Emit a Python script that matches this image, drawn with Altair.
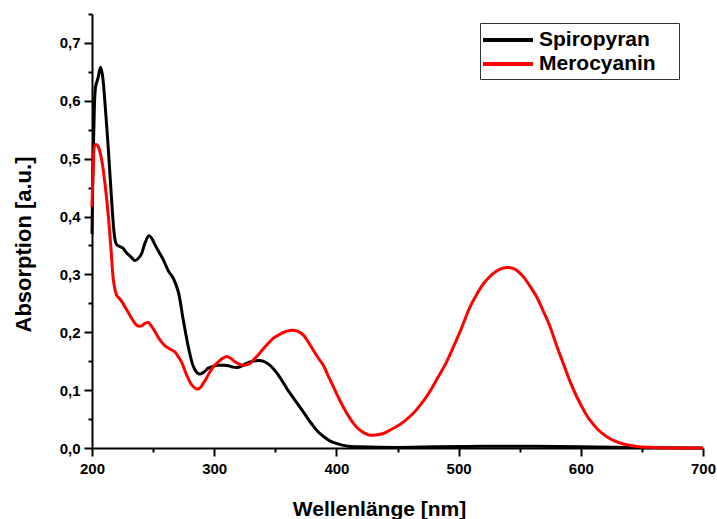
import altair as alt
import pandas as pd

# Spiropyran spectrum (wavelength nm, absorbance)
spiro_nm = [200, 201.5, 203, 205, 207, 208.5, 210.5, 213.4, 216, 218.5, 220, 223, 225, 228.4, 232,
            235.2, 238, 240.6, 243, 246.6, 249, 251.6, 255, 258.4, 262.5, 266.6, 270.6, 274.7, 278.8,
            282.9, 286, 288.4, 292, 295.2, 300, 303.4, 308, 311.6, 315, 318.4, 322, 325.2, 330, 336.1,
            340, 345, 350, 355, 360, 365, 370, 375, 380, 385, 390, 395, 400, 405, 410, 420, 450, 480,
            520, 560, 600, 640, 700]
spiro_abs = [0.37, 0.55, 0.625, 0.64, 0.658, 0.645, 0.60, 0.515, 0.43, 0.365, 0.352, 0.348, 0.346,
             0.337, 0.33, 0.324, 0.328, 0.336, 0.352, 0.367, 0.362, 0.351, 0.338, 0.325, 0.306, 0.293,
             0.270, 0.221, 0.175, 0.141, 0.130, 0.128, 0.132, 0.138, 0.142, 0.143, 0.143, 0.142, 0.140,
             0.139, 0.141, 0.145, 0.149, 0.151, 0.150, 0.144, 0.133, 0.118, 0.101, 0.086, 0.071, 0.056,
             0.041, 0.028, 0.019, 0.012, 0.008, 0.005, 0.003, 0.002, 0.001, 0.002, 0.003, 0.003, 0.002,
             0.001, 0.0]

# Merocyanin spectrum
mero_nm = [200, 201, 202.5, 204, 205.5, 207.9, 210.6, 213.4, 215.5, 217.4, 219, 220.2, 223, 225.6,
           228, 231.1, 234, 236.6, 240.6, 243, 246.1, 248.5, 251.6, 254, 257, 260, 263.8, 267.9, 270.5,
           273.4, 277.5, 281.6, 285.7, 288.5, 291.1, 294, 296.6, 300, 303.4, 307, 310.2, 313.5, 317,
           320.5, 323.8, 327, 329.3, 332, 336.1, 340, 344.3, 348, 352.5, 357, 362, 366, 369, 373, 377,
           381.1, 385, 389.3, 393, 397.5, 401, 405.6, 410, 413.8, 418, 422, 426, 430.2, 434, 438.4, 443,
           449.3, 456, 462.9, 470, 476, 482, 490, 496, 502, 509, 515, 520, 525, 530, 535, 540.7, 546,
           553, 558, 563.9, 569, 574.8, 580, 585.7, 591, 596.6, 602, 607.5, 614, 621, 628, 635, 642,
           648, 660, 680, 700]
mero_abs = [0.417, 0.48, 0.524, 0.524, 0.519, 0.498, 0.457, 0.40, 0.345, 0.292, 0.272, 0.264, 0.257,
            0.249, 0.24, 0.229, 0.219, 0.212, 0.211, 0.215, 0.217, 0.211, 0.201, 0.192, 0.183, 0.176,
            0.171, 0.166, 0.158, 0.148, 0.126, 0.109, 0.102, 0.104, 0.112, 0.122, 0.132, 0.142, 0.149,
            0.155, 0.158, 0.155, 0.149, 0.145, 0.143, 0.144, 0.146, 0.152, 0.161, 0.171, 0.181, 0.189,
            0.195, 0.200, 0.203, 0.203, 0.201, 0.195, 0.183, 0.169, 0.156, 0.143, 0.126, 0.106, 0.090,
            0.071, 0.055, 0.043, 0.033, 0.027, 0.023, 0.022, 0.023, 0.025, 0.030, 0.037, 0.047, 0.060,
            0.078, 0.096, 0.118, 0.148, 0.176, 0.205, 0.242, 0.266, 0.283, 0.295, 0.304, 0.310, 0.312,
            0.309, 0.296, 0.281, 0.261, 0.238, 0.210, 0.178, 0.146, 0.116, 0.089, 0.067, 0.048, 0.032,
            0.020, 0.012, 0.007, 0.004, 0.002, 0.001, 0.0, 0.0]

series_names = ["Spiropyran", "Merocyanin"]
series_colors = ["#000000", "#ff0000"]

x_ticks = [200, 250, 300, 350, 400, 450, 500, 550, 600, 650, 700]
y_ticks = [0.0, 0.05, 0.1, 0.15, 0.2, 0.25, 0.3, 0.35, 0.4, 0.45, 0.5, 0.55, 0.6, 0.65, 0.7, 0.75]

df = pd.concat([
    pd.DataFrame({"nm": spiro_nm, "A": spiro_abs, "s": series_names[0], "o": 0}),
    pd.DataFrame({"nm": mero_nm, "A": mero_abs, "s": series_names[1], "o": 1}),
])

FONT = "Liberation Sans"
MAJOR_Y = "abs(datum.value*10 - round(datum.value*10)) < 0.001"
PAD = "\u00a0\u00a0\u00a0\u200b"  # keeps the legend frame as wide as in the original

chart = alt.Chart(df).mark_line(strokeWidth=3, interpolate="catmull-rom").encode(
    x=alt.X("nm:Q",
            scale=alt.Scale(domain=[200, 700], nice=False, zero=False),
            axis=alt.Axis(
                values=x_ticks,
                title="Wellenlänge [nm]",
                labelExpr="datum.value % 100 == 0 ? format(datum.value, 'd') : ''",
                tickSize={"condition": {"test": "datum.value % 100 == 0", "value": 8}, "value": 4},
                labelPadding=5,
                labelFlush=False,
                labelOverlap=False,
                grid=False,
                titleX=287, titleY=67, titleBaseline="alphabetic", titleAlign="center",
                titleFontSize=21,
            )),
    y=alt.Y("A:Q",
            scale=alt.Scale(domain=[0, 0.75], nice=False),
            axis=alt.Axis(
                values=y_ticks,
                title="Absorption [a.u.]",
                labelExpr=MAJOR_Y + " ? replace(format(datum.value, '.1f'), '.', ',') : ''",
                tickSize={"condition": {"test": MAJOR_Y, "value": 8}, "value": 4},
                labelPadding=4,
                labelOverlap=False,
                grid=False,
                titleX=-62, titleY=230, titleBaseline="alphabetic", titleAlign="center", titleAngle=270,
                titleFontSize=22,
            )),
    color=alt.Color("s:N",
                    scale=alt.Scale(domain=series_names, range=series_colors),
                    legend=alt.Legend(
                        title=None, orient="none", legendX=388, legendY=9,
                        symbolType="M-2.5,0H2.5", symbolSize=400, symbolStrokeWidth=4,
                        symbolOffset=11,
                        labelFontSize=21, labelFont=FONT, labelFontWeight="bold", labelColor="#000",
                        labelExpr="datum.label + '" + PAD + "'",
                        labelOffset=19, padding=5, rowPadding=2,
                        strokeColor="#333", fillColor="#ffffff",
                    )),
    order=alt.Order("o:Q"),
).properties(
    width=611, height=434,
    background="#ffffff",
    autosize=alt.AutoSizeParams(type="none"),
    padding={"left": 92, "top": 14, "right": 14, "bottom": 71},
).configure_view(stroke=None).configure_axis(
    grid=False, domainColor="#000", domainWidth=2, tickColor="#000", tickWidth=2,
    labelFont=FONT, labelFontWeight="bold", labelFontSize=15, labelColor="#000",
    titleFont=FONT, titleFontWeight="bold", titleColor="#000",
)

chart.save("out.html", embed_options={"renderer": "svg", "actions": False})
